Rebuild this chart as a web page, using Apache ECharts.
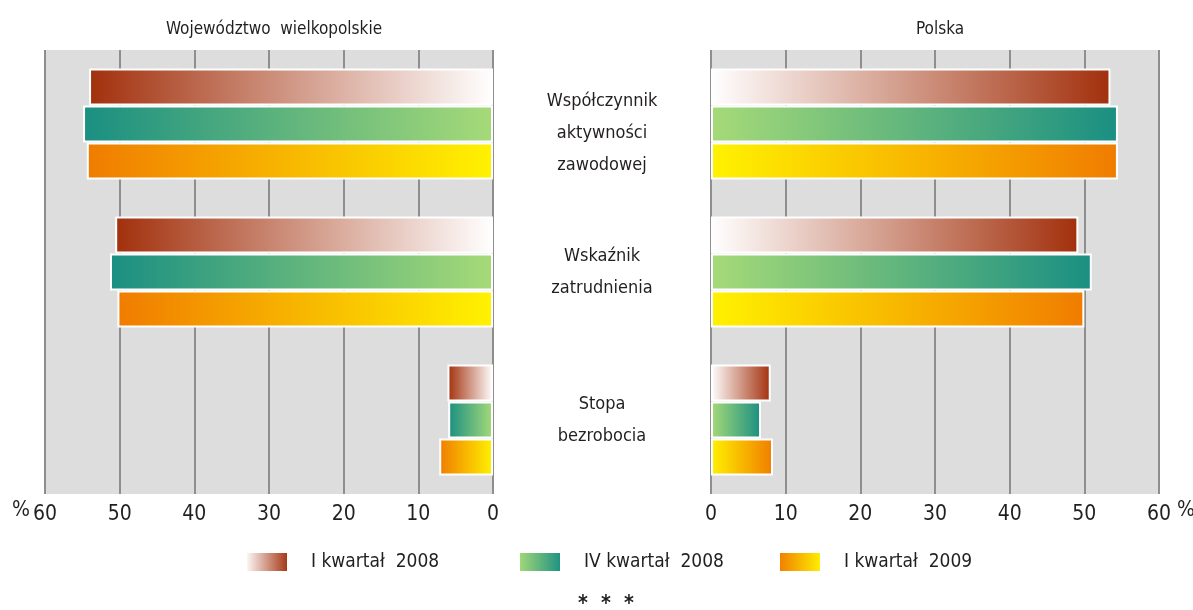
<!DOCTYPE html>
<html>
<head>
<meta charset="utf-8">
<script src="https://cdn.jsdelivr.net/npm/echarts@6/dist/echarts.min.js"></script>
<style>
  html, body { margin: 0; padding: 0; background: #fff; }
  #chart { width: 1193px; height: 610px; }
</style>
</head>
<body>
<div id="chart"></div>
<script>
// categories and series values (%)
var categories = ['Współczynnik\naktywności\nzawodowej', 'Wskaźnik\nzatrudnienia', 'Stopa\nbezrobocia']
var seriesNames = ['I kwartał  2008', 'IV kwartał  2008', 'I kwartał  2009']
var wlkpQ1_2008 = [54.1, 50.6, 6.1]
var wlkpQ4_2008 = [54.9, 51.3, 6.0]
var wlkpQ1_2009 = [54.4, 50.3, 7.2]
var plQ1_2008 = [53.5, 49.2, 8.0]
var plQ4_2008 = [54.5, 51.0, 6.7]
var plQ1_2009 = [54.5, 50.0, 8.3]
var xTicks = [0, 10, 20, 30, 40, 50, 60]

var FONT = "'Liberation Sans Narrow', 'DejaVu Sans Condensed', sans-serif"
var TXT = '#231f20'

function grad(from, to) {
  return new echarts.graphic.LinearGradient(0, 0, 1, 0, [
    { offset: 0, color: from },
    { offset: 1, color: to }
  ])
}
var RED = '#a2300c', RED_W = '#ffffff'
var TEAL = '#1a8f82', GREEN = '#a6da78'
var ORANGE = '#f07c00', YELLOW = '#fff200'

var chart = echarts.init(document.getElementById('chart'))

function xAxis(gridIndex, inverse) {
  return {
    type: 'value',
    gridIndex: gridIndex,
    inverse: inverse,
    min: xTicks[0],
    max: xTicks[xTicks.length - 1],
    interval: 10,
    axisLine: { show: false },
    axisTick: { show: false },
    axisLabel: { color: TXT, fontFamily: FONT, fontSize: 21, margin: 10 },
    splitLine: { show: true, lineStyle: { color: '#8e8e8e', width: 2 } }
  }
}

function bar(name, data, idx, color) {
  return {
    name: name,
    type: 'bar',
    xAxisIndex: idx,
    yAxisIndex: idx,
    data: data,
    barWidth: 37,
    barGap: '0%',
    itemStyle: { color: color, borderColor: '#fff', borderWidth: 2 },
    animation: false
  }
}

function legend(i, left, color) {
  return {
    left: left,
    top: 551,
    padding: 0,
    itemWidth: 42,
    itemHeight: 20,
    icon: 'rect',
    textStyle: { color: TXT, fontFamily: FONT, fontSize: 19, padding: [0, 0, 0, 18] },
    data: [{ name: seriesNames[i], itemStyle: { color: color } }]
  }
}

var lineStyle = { color: TXT, fontFamily: FONT, fontSize: 18, lineHeight: 32 }

chart.setOption({
  textStyle: { fontFamily: FONT },
  title: [
    { text: 'Województwo  wielkopolskie', left: 269, top: 16, textAlign: 'center',
      textStyle: { color: TXT, fontFamily: FONT, fontSize: 17, fontWeight: 'normal' } },
    { text: 'Polska', left: 935, top: 16, textAlign: 'center',
      textStyle: { color: TXT, fontFamily: FONT, fontSize: 17, fontWeight: 'normal' } }
  ],
  grid: [
    { left: 45, width: 448, top: 50, bottom: 116, show: true, backgroundColor: '#dddddd', borderWidth: 0 },
    { left: 711, width: 448, top: 50, bottom: 116, show: true, backgroundColor: '#dddddd', borderWidth: 0 }
  ],
  xAxis: [xAxis(0, true), xAxis(1, false)],
  yAxis: [
    { type: 'category', gridIndex: 0, inverse: true, data: categories, position: 'right',
      axisLine: { show: false }, axisTick: { show: false }, axisLabel: { show: false } },
    { type: 'category', gridIndex: 1, inverse: true, data: categories, position: 'left',
      axisLine: { show: false }, axisTick: { show: false },
      axisLabel: {
        align: 'center', margin: 109,
        // the first label sits a little lower than its bar group
        formatter: function (value, index) {
          var tag = index === 0 ? '{p|' : '{a|'
          return value.split('\n').map(function (l) { return tag + l + '}' }).join('\n')
        },
        rich: {
          a: lineStyle,
          p: Object.assign({ padding: [18, 0, 0, 0] }, lineStyle)
        }
      } }
  ],
  legend: [
    legend(0, 245, grad(RED_W, RED)),
    legend(1, 518, grad(GREEN, TEAL)),
    legend(2, 778, grad(ORANGE, YELLOW))
  ],
  graphic: [
    { type: 'text', left: 12, top: 500, style: { text: '%', fill: TXT, font: '21px ' + FONT } },
    { type: 'text', left: 1177, top: 500, style: { text: '%', fill: TXT, font: '21px ' + FONT } },
    { type: 'text', left: 578, top: 594, style: { text: '*  *  *', fill: TXT, font: 'bold 21px ' + FONT } }
  ],
  series: [
    bar(seriesNames[0], wlkpQ1_2008, 0, grad(RED, RED_W)),
    bar(seriesNames[1], wlkpQ4_2008, 0, grad(TEAL, GREEN)),
    bar(seriesNames[2], wlkpQ1_2009, 0, grad(ORANGE, YELLOW)),
    bar(seriesNames[0], plQ1_2008, 1, grad(RED_W, RED)),
    bar(seriesNames[1], plQ4_2008, 1, grad(GREEN, TEAL)),
    bar(seriesNames[2], plQ1_2009, 1, grad(YELLOW, ORANGE))
  ]
})
</script>
</body>
</html>
